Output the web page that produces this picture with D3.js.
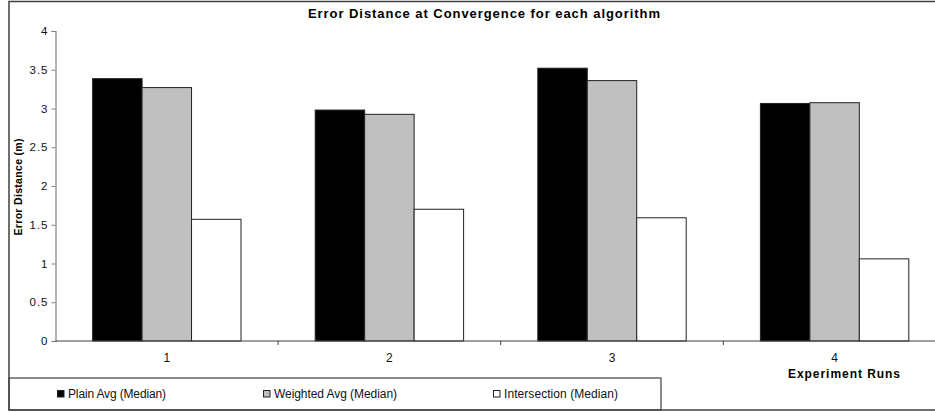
<!DOCTYPE html>
<html>
<head>
<meta charset="utf-8">
<script src="https://cdn.jsdelivr.net/npm/d3@7"></script>
<style>
  html, body { margin: 0; padding: 0; background: #fff; }
  svg { display: block; font-family: Arial, "Liberation Sans", sans-serif; }
</style>
</head>
<body>
<svg id="chart" width="935" height="412"></svg>
<script>
// Experiment runs on the x axis
const runs = ["1", "2", "3", "4"];
// Median error distance (m) per algorithm
const seriesNames = ["Plain Avg (Median)", "Weighted Avg (Median)", "Intersection (Median)"];
const plainAvg = [3.385, 2.98, 3.52, 3.065];
const weightedAvg = [3.27, 2.925, 3.36, 3.075];
const intersection = [1.57, 1.70, 1.59, 1.06];
const yTicks = [0, 0.5, 1, 1.5, 2, 2.5, 3, 3.5, 4];
const fills = ["#000000", "#c0c0c0", "#ffffff"];

const seriesValues = [plainAvg, weightedAvg, intersection];

const svg = d3.select("#chart");

// Outer chart frame (runs off the right edge)
svg.append("rect")
  .attr("x", 9).attr("y", 1.5)
  .attr("width", 940).attr("height", 408.5)
  .attr("fill", "#fff").attr("stroke", "#404040").attr("stroke-width", 1.5);

const plotLeft = 55.5, bandW = 222.6, plotTop = 31, plotBottom = 341;

const x = d3.scaleBand().domain(runs).range([plotLeft, plotLeft + bandW * runs.length]).padding(0);
const y = d3.scaleLinear().domain([0, 4]).range([plotBottom, plotTop]);

// Bars: three per run, gap of 1.5 bar widths between groups
const barW = x.bandwidth() / 4.5;
const inner = d3.scaleBand().domain(d3.range(3)).range([barW * 0.75, barW * 3.75]).padding(0);

const groups = svg.append("g").selectAll("g")
  .data(runs).join("g")
  .attr("transform", d => `translate(${x(d)},0)`);

groups.selectAll("rect")
  .data((d, i) => seriesValues.map((s, k) => ({ k, v: s[i] })))
  .join("rect")
  .attr("x", d => inner(d.k))
  .attr("y", d => y(d.v))
  .attr("width", inner.bandwidth())
  .attr("height", d => y(0) - y(d.v))
  .attr("fill", d => fills[d.k])
  .attr("stroke", "#222")
  .attr("stroke-width", 1);

// Y axis
const yAxis = svg.append("g")
  .attr("transform", `translate(${plotLeft},0)`)
  .call(d3.axisLeft(y).tickValues(yTicks).tickSize(4).tickPadding(3).tickFormat(d3.format("")));
yAxis.select(".domain").attr("stroke", "#808080").attr("stroke-width", 1.2);
yAxis.selectAll(".tick line").attr("stroke", "#808080");
yAxis.selectAll(".tick text")
  .attr("font-size", 11.5).attr("fill", "#111")
  .attr("font-family", "Arial, 'Liberation Sans', sans-serif")
  .style("letter-spacing", "1px");

// X axis: line with ticks at group boundaries, labels centered on groups
const xAxisG = svg.append("g").attr("transform", `translate(0,${plotBottom})`);
xAxisG.append("line")
  .attr("x1", plotLeft).attr("x2", 935)
  .attr("stroke", "#404040").attr("stroke-width", 1.2);
xAxisG.selectAll("line.tk")
  .data(runs.slice(1)).join("line").attr("class", "tk")
  .attr("x1", d => x(d)).attr("x2", d => x(d))
  .attr("y1", 0).attr("y2", 4)
  .attr("stroke", "#404040");
xAxisG.selectAll("text")
  .data(runs).join("text")
  .attr("x", d => x(d) + x.bandwidth() / 2)
  .attr("y", 21)
  .attr("text-anchor", "middle")
  .attr("font-size", 12).attr("fill", "#111")
  .text(d => d);

// Title
svg.append("text")
  .attr("x", 484).attr("y", 18)
  .attr("text-anchor", "middle")
  .attr("font-size", 13).attr("font-weight", "bold").attr("fill", "#000")
  .attr("textLength", 352).attr("lengthAdjust", "spacing")
  .text("Error Distance at Convergence for each algorithm");

// Y axis title
svg.append("text")
  .attr("transform", "translate(22,187) rotate(-90)")
  .attr("text-anchor", "middle")
  .attr("font-size", 10.5).attr("font-weight", "bold").attr("fill", "#000")
  .attr("textLength", 97).attr("lengthAdjust", "spacing")
  .text("Error Distance (m)");

// X axis title
svg.append("text")
  .attr("x", 844).attr("y", 378)
  .attr("text-anchor", "middle")
  .attr("font-size", 12).attr("font-weight", "bold").attr("fill", "#000")
  .attr("textLength", 112).attr("lengthAdjust", "spacing")
  .text("Experiment Runs");

// Legend box
svg.append("rect")
  .attr("x", 9).attr("y", 378)
  .attr("width", 652).attr("height", 32)
  .attr("fill", "none").attr("stroke", "#404040").attr("stroke-width", 1.2);

const legendX = [57, 263, 493];
const legendLen = [98, 123, 114];
const legend = svg.append("g").selectAll("g")
  .data(seriesNames).join("g")
  .attr("transform", (d, i) => `translate(${legendX[i]},394)`);
legend.append("rect")
  .attr("x", 0.5).attr("y", -3.5)
  .attr("width", 6.5).attr("height", 6.5)
  .attr("fill", (d, i) => fills[i])
  .attr("stroke", "#222").attr("stroke-width", 1);
legend.append("text")
  .attr("x", 11).attr("y", 4)
  .attr("font-size", 12).attr("fill", "#111")
  .attr("textLength", (d, i) => legendLen[i]).attr("lengthAdjust", "spacing")
  .text(d => d);
</script>
</body>
</html>
